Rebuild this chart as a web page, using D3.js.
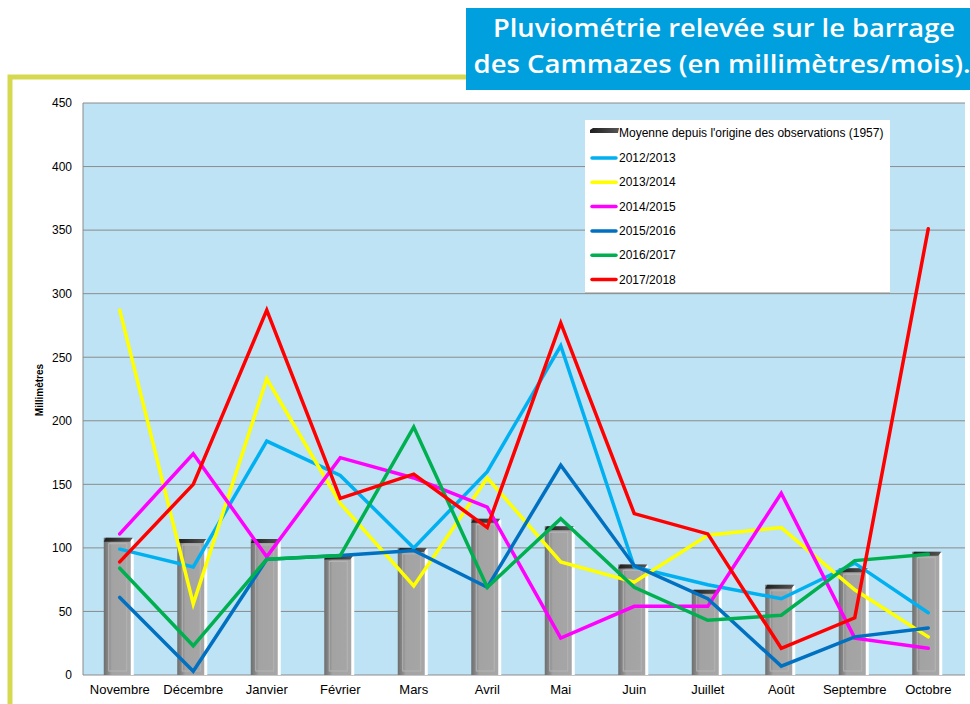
<!DOCTYPE html>
<html>
<head>
<meta charset="utf-8">
<script src="https://cdn.jsdelivr.net/npm/d3@7"></script>
<style>
  body { margin: 0; background: #fff; }
  svg { display: block; font-family: "Liberation Sans", Arial, sans-serif; }
</style>
</head>
<body>
<script>
// data (mm / month)
var months = ["Novembre", "Décembre", "Janvier", "Février", "Mars", "Avril", "Mai", "Juin", "Juillet", "Août", "Septembre", "Octobre"];
var moyenne = [108, 107, 107, 94, 100, 123, 117, 87, 67, 71, 84, 97];
var s2012 = [99, 85, 184, 157, 100, 160, 259, 85, 71, 60, 88, 49];
var s2013 = [287, 56, 233, 135, 70, 155, 89, 73, 110, 116, 67, 30];
var s2014 = [111, 174, 93, 171, 155, 132, 29, 54, 54, 143, 29, 21];
var s2015 = [61, 3, 91, 94, 98, 69, 165, 86, 60, 7, 30, 37];
var s2016 = [84, 23, 91, 94, 195, 69, 123, 69, 43, 47, 90, 95];
var s2017 = [89, 150, 287, 139, 158, 116, 277, 127, 111, 21, 45, 351];
var seriesNames = ["2012/2013", "2013/2014", "2014/2015", "2015/2016", "2016/2017", "2017/2018"];
var seriesColors = ["#00b0f0", "#ffff00", "#ff00ff", "#0070c0", "#00b050", "#ff0000"];
var yTicks = [0, 50, 100, 150, 200, 250, 300, 350, 400, 450];

var allSeries = [s2012, s2013, s2014, s2015, s2016, s2017];

var svgWidth = 970, svgHeight = 704;
var plot = { left: 83, right: 965, top: 103, bottom: 675 };

var svg = d3.select("body").append("svg")
    .attr("width", svgWidth)
    .attr("height", svgHeight);

var defs = svg.append("defs");
var g1 = defs.append("linearGradient").attr("id", "barGrad");
g1.append("stop").attr("offset", "0%").attr("stop-color", "#6e6e6e");
g1.append("stop").attr("offset", "18%").attr("stop-color", "#8a8a8a");
g1.append("stop").attr("offset", "30%").attr("stop-color", "#a3a3a3");
g1.append("stop").attr("offset", "100%").attr("stop-color", "#a6a6a6");
var g2 = defs.append("linearGradient").attr("id", "capGrad");
g2.append("stop").attr("offset", "0%").attr("stop-color", "#1e1e1e");
g2.append("stop").attr("offset", "100%").attr("stop-color", "#555");

// yellow-green frame
svg.append("path")
    .attr("d", "M10,704 L10,77 L470,77")
    .attr("fill", "none")
    .attr("stroke", "#d5d950")
    .attr("stroke-width", 5);

// scales
var x = d3.scaleBand().domain(months).range([plot.left, plot.right]).padding(0);
var y = d3.scaleLinear().domain([0, 450]).range([plot.bottom, plot.top]);
var cx = function(m) { return x(m) + x.bandwidth() / 2; };

// plot background
svg.append("rect")
    .attr("x", plot.left).attr("y", plot.top)
    .attr("width", plot.right - plot.left).attr("height", plot.bottom - plot.top)
    .attr("fill", "#bde3f5");

// grid
svg.append("g").selectAll("line")
    .data(yTicks)
    .enter().append("line")
    .attr("x1", plot.left).attr("x2", plot.right)
    .attr("y1", d => y(d)).attr("y2", d => y(d))
    .attr("stroke", "#8c8c8c").attr("stroke-width", 1);

svg.append("line")
    .attr("x1", plot.left).attr("x2", plot.left)
    .attr("y1", plot.top).attr("y2", plot.bottom)
    .attr("stroke", "#8c8c8c");

// y axis labels
var leftAxis = d3.axisLeft(y).tickValues(yTicks).tickSize(0).tickPadding(11);
var yAxis = svg.append("g")
    .attr("transform", `translate(${plot.left}, 0)`)
    .call(leftAxis);
yAxis.select(".domain").remove();
yAxis.selectAll("text").attr("font-size", 12).attr("fill", "#000")
    .style("font-family", "Liberation Sans, Arial, sans-serif");

svg.append("text")
    .attr("transform", "translate(43, 390) rotate(-90)")
    .attr("text-anchor", "middle")
    .attr("font-size", 10).attr("font-weight", "bold")
    .text("Millimètres");

// x axis labels
var bottomAxis = d3.axisBottom(x).tickSize(0).tickPadding(10);
var xAxis = svg.append("g")
    .attr("transform", `translate(0, ${plot.bottom})`)
    .call(bottomAxis);
xAxis.select(".domain").remove();
xAxis.selectAll("text").attr("font-size", 13).attr("fill", "#000")
    .style("font-family", "Liberation Sans, Arial, sans-serif");

// columns (average since 1957)
var barW = 27;
var bars = svg.append("g").selectAll("g")
    .data(moyenne)
    .enter().append("g");

bars.append("rect")  // white shadow on the right
    .attr("x", (d, i) => cx(months[i]) - 16 + 3)
    .attr("y", d => y(d) + 1)
    .attr("width", barW)
    .attr("height", d => plot.bottom - y(d) - 1)
    .attr("fill", "#ffffff");

bars.append("rect")
    .attr("x", (d, i) => cx(months[i]) - 16)
    .attr("y", d => y(d))
    .attr("width", barW)
    .attr("height", d => plot.bottom - y(d))
    .attr("fill", "url(#barGrad)");

bars.append("rect")  // inner bevel
    .attr("x", (d, i) => cx(months[i]) - 11)
    .attr("y", d => y(d) + 6)
    .attr("width", barW - 9)
    .attr("height", d => plot.bottom - y(d) - 10)
    .attr("fill", "none")
    .attr("stroke", "#b5b5b5")
    .attr("stroke-width", 1);

bars.append("path")  // dark top cap
    .attr("d", function(d, i) {
        var l = cx(months[i]) - 16, t = y(d);
        return `M${l},${t + 4} L${l + 2},${t} L${l + barW + 2},${t} L${l + barW - 1},${t + 4} Z`;
    })
    .attr("fill", "url(#capGrad)");

// series lines
var line = d3.line()
    .x((d, i) => cx(months[i]))
    .y(d => y(d));

svg.append("g").selectAll("path")
    .data(allSeries)
    .enter().append("path")
    .attr("d", line)
    .attr("fill", "none")
    .attr("stroke", (d, i) => seriesColors[i])
    .attr("stroke-width", 3.5)
    .attr("stroke-linejoin", "miter")
    .attr("stroke-linecap", "round");

// legend
var legend = svg.append("g").attr("transform", "translate(585, 120)");
legend.append("rect")
    .attr("width", 305).attr("height", 173)
    .attr("fill", "#fff");
legend.append("line")
    .attr("x1", 0).attr("x2", 305).attr("y1", 173).attr("y2", 173)
    .attr("stroke", "#8c8c8c");

legend.append("path")
    .attr("d", "M5,10 L8,8 L34,8 L33,13 L5,13 Z")
    .attr("fill", "url(#capGrad)");
legend.append("text")
    .attr("x", 34).attr("y", 17)
    .attr("font-size", 12)
    .text("Moyenne depuis l'origine des observations (1957)");

var items = legend.selectAll(".item")
    .data(seriesNames)
    .enter().append("g")
    .attr("class", "item")
    .attr("transform", (d, i) => `translate(0, ${38 + i * 24.3})`);
items.append("line")
    .attr("x1", 7).attr("x2", 31).attr("y1", 0).attr("y2", 0)
    .attr("stroke", (d, i) => seriesColors[i])
    .attr("stroke-width", 3.5)
    .attr("stroke-linecap", "round");
items.append("text")
    .attr("x", 34).attr("y", 4)
    .attr("font-size", 12)
    .text(d => d);

// title box
svg.append("rect")
    .attr("x", 466).attr("y", 8)
    .attr("width", 510).attr("height", 82)
    .attr("fill", "#00a0df");

var title = svg.append("g")
    .attr("font-family", "Open Sans, sans-serif")
    .attr("font-weight", 600)
    .attr("font-size", 26)
    .attr("fill", "#fff")
    .attr("text-anchor", "middle");
title.append("text")
    .attr("x", 724).attr("y", 37)
    .attr("textLength", 462).attr("lengthAdjust", "spacingAndGlyphs")
    .text("Pluviométrie relevée sur le barrage");
title.append("text")
    .attr("x", 722).attr("y", 73)
    .attr("textLength", 497).attr("lengthAdjust", "spacingAndGlyphs")
    .text("des Cammazes (en millimètres/mois).");
</script>
</body>
</html>
